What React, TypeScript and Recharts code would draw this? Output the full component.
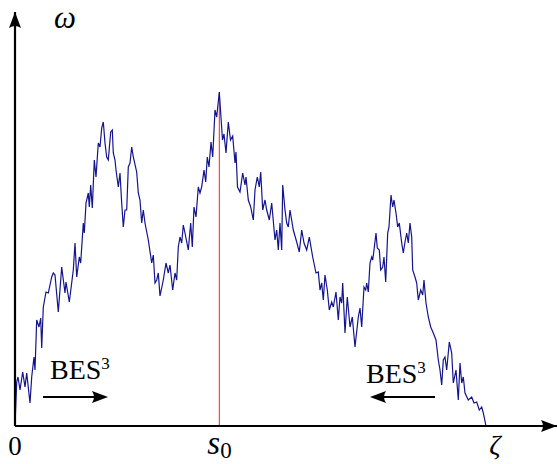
import React from 'react';
import { LineChart, Line, XAxis, YAxis, ReferenceLine, ReferenceDot } from 'recharts';

// sample path: time t, height omega
const pathT = [
  0, 1.7, 3, 5, 7.7, 10, 11.7, 15, 16.7, 19,
  20, 21.7, 24, 25.7, 26.7, 28.3, 31, 33.3, 36.7, 38.3,
  40, 43.3, 46.7, 50, 51, 54.3, 58.3, 60, 61.7, 64.3,
  65.7, 68.3, 69.3, 71, 73.3, 74.3, 75.7, 77.3, 79.3, 81,
  83.3, 85, 86.7, 88.3, 90, 91.7, 93.3, 95.7, 97.3, 98.3,
  100, 101, 103.3, 105, 106.7, 108.3, 110, 111.7, 113.3, 115,
  116.7, 118.3, 121.7, 123.3, 125, 126.7, 128.3, 130, 133.3, 136.7,
  138.3, 140, 141.7, 143.3, 145, 148.3, 151, 153.3, 155, 157.7,
  160, 161.7, 163.3, 165, 166.7, 168.3, 170, 173.3, 175.7, 177.3,
  179, 181, 183.3, 185, 186.7, 189, 190.7, 192.3, 194, 196,
  197.7, 200, 201.7, 204.3, 207.5, 209, 211, 213.3, 215.5, 217.7,
  220, 221, 222.5, 225, 227.7, 230, 231, 233.3, 235.7, 238.3,
  240, 242.3, 244.3, 245.7, 247.7, 250, 251.7, 254.3, 256.7, 260,
  261.7, 263.3, 265, 266.7, 267.7, 270, 271.7, 273.3, 275, 278.3,
  281.7, 284.3, 286.7, 289, 291.7, 294.3, 297.7, 301, 303.3, 305,
  306.7, 308.3, 310, 312.3, 314.3, 316.7, 318.3, 321, 323.3, 325,
  326.7, 327.7, 330, 332.3, 335, 337.3, 340, 343.3, 345, 346.7,
  349, 350.7, 351.7, 353.3, 355, 356.7, 357.7, 359, 361, 362.3,
  364.3, 365.7, 367.7, 369, 370.7, 372.7, 374, 376, 377.7, 379,
  381, 382.7, 384.3, 386.7, 388.3, 390, 391.7, 393.3, 395, 396.7,
  397.7, 400, 401.7, 403.3, 405.7, 407.7, 409, 411, 413.3, 415.7,
  418.3, 421, 423.3, 425, 426.7, 428.3, 430, 431.7, 434.3, 436.7,
  438.3, 441, 443.3, 445, 446.7, 448.3, 450, 453.3, 456.7, 459,
  461.7, 464.3, 466.7, 468.3, 471,
];
const pathOmega = [
  0, 44, 49, 36, 54, 39, 53, 23, 49, 69,
  56, 106, 99, 108, 78, 119, 134, 133, 149, 153,
  151, 114, 159, 133, 144, 124, 156, 183, 149, 169,
  163, 203, 193, 223, 233, 219, 241, 218, 266, 249,
  283, 279, 298, 304, 283, 269, 266, 294, 296, 273,
  266, 256, 239, 253, 223, 199, 216, 216, 259, 263,
  279, 269, 254, 233, 226, 203, 216, 203, 186, 163,
  171, 143, 146, 153, 130, 146, 163, 153, 161, 136,
  153, 146, 179, 189, 183, 201, 193, 176, 203, 179,
  219, 209, 239, 233, 239, 256, 244, 269, 259, 284,
  269, 316, 309, 334, 286, 292, 273, 304, 286, 290,
  263, 274, 239, 234, 253, 241, 249, 226, 219, 206,
  236, 249, 239, 254, 216, 226, 216, 206, 223, 186,
  196, 176, 203, 176, 241, 216, 203, 199, 216, 196,
  184, 174, 196, 183, 176, 189, 169, 153, 154, 136,
  143, 126, 151, 136, 116, 124, 119, 134, 106, 129,
  123, 143, 93, 129, 99, 109, 79, 109, 118, 99,
  139, 136, 143, 134, 163, 169, 166, 176, 193, 178,
  176, 156, 159, 169, 144, 193, 199, 231, 219, 226,
  213, 199, 203, 183, 173, 184, 193, 183, 203, 189,
  156, 149, 143, 126, 136, 131, 146, 123, 109, 99,
  93, 86, 66, 56, 41, 66, 69, 56, 84, 73,
  43, 56, 26, 63, 43, 49, 33, 26, 29, 23,
  24, 16, 19, 13, 0,
];

const S0 = 204.3;
const S0_HEIGHT = 334;
const ZETA = 471;
const T_MAX = 542;
const OMEGA_MAX = 414;

const tickValues = [0, S0, ZETA];
const tickLabels = ['0', 's', 'ζ'];

// BES3 arrows: [from, to] in t, at height arrowLevel
const arrowLevel = 29;
const besLeft = [28, 93];
const besRight = [420, 355];

const data = pathT.map((t, i) => ({ t, omega: pathOmega[i] }));

const FONT = '"Liberation Serif", "DejaVu Serif", serif';

const AxisTick = (props: any) => {
  const { x, y, index } = props;
  const label = tickLabels[index];
  if (label === 's') {
    return (
      <text x={x - 12} y={y + 28} fontFamily={FONT} fill="#000">
        <tspan fontStyle="italic" fontSize={33}>s</tspan>
        <tspan fontSize={23} dy={4}>0</tspan>
      </text>
    );
  }
  if (label === 'ζ') {
    return (
      <text x={x + 9} y={y + 28} textAnchor="middle" fontFamily={FONT} fontStyle="italic" fontSize={28} fill="#000">
        {label}
      </text>
    );
  }
  return (
    <text x={x} y={y + 29} textAnchor="middle" fontFamily={FONT} fontSize={27} fill="#000">
      {label}
    </text>
  );
};

const arrowRight = (cx: number, cy: number) =>
  `M${cx},${cy} L${cx - 16},${cy - 6} Q${cx - 12},${cy} ${cx - 16},${cy + 6} Z`;
const arrowLeft = (cx: number, cy: number) =>
  `M${cx},${cy} L${cx + 16},${cy - 6} Q${cx + 12},${cy} ${cx + 16},${cy + 6} Z`;
const arrowUp = (cx: number, cy: number) =>
  `M${cx},${cy} L${cx - 6},${cy + 16} Q${cx},${cy + 12} ${cx + 6},${cy + 16} Z`;

const Bes = ({ x, y }: { x: number; y: number }) => (
  <text x={x} y={y} fontFamily={FONT} fontSize={28} fill="#000">
    BES<tspan fontSize={17} dy={-10}>3</tspan>
  </text>
);

export default function App() {
  return (
    <div style={{ width: 557, height: 464 }}>
      <style>{'body{margin:0}'}</style>
      <LineChart width={557} height={464} data={data} margin={{ top: 12, right: 0, left: 15, bottom: 0 }}>
        <XAxis
          dataKey="t"
          type="number"
          domain={[0, T_MAX]}
          ticks={tickValues}
          interval={0}
          height={38}
          axisLine={false}
          tickLine={false}
          tickSize={0}
          tickMargin={0}
          tick={AxisTick}
        />
        <YAxis hide type="number" domain={[0, OMEGA_MAX]} />
        <ReferenceLine
          segment={[{ x: S0, y: 0 }, { x: S0, y: S0_HEIGHT }]}
          stroke="#ff1a1a"
          strokeWidth={1}
        />
        <Line
          type="linear"
          dataKey="omega"
          stroke="#14148f"
          strokeWidth={1.2}
          dot={false}
          isAnimationActive={false}
        />
        <ReferenceLine y={0} stroke="#000" strokeWidth={2.2} ifOverflow="visible" />
        <ReferenceLine x={0} stroke="#000" strokeWidth={2.2} ifOverflow="visible" />
        <ReferenceDot
          x={T_MAX}
          y={0}
          ifOverflow="visible"
          shape={(p: any) => <path d={arrowRight(p.cx, p.cy)} fill="#000" />}
        />
        <ReferenceDot
          x={0}
          y={OMEGA_MAX}
          ifOverflow="visible"
          shape={(p: any) => (
            <g>
              <path d={arrowUp(p.cx, p.cy)} fill="#000" />
              <text x={p.cx + 39} y={p.cy + 16} fontFamily={FONT} fontStyle="italic" fontSize={31} fill="#000">
                ω
              </text>
            </g>
          )}
        />
        <ReferenceLine
          segment={[{ x: besLeft[0], y: arrowLevel }, { x: besLeft[1] - 10, y: arrowLevel }]}
          stroke="#000"
          strokeWidth={2.2}
        />
        <ReferenceDot
          x={besLeft[1]}
          y={arrowLevel}
          ifOverflow="visible"
          shape={(p: any) => (
            <g>
              <path d={arrowRight(p.cx, p.cy)} fill="#000" />
              <Bes x={p.cx - 58} y={p.cy - 18} />
            </g>
          )}
        />
        <ReferenceLine
          segment={[{ x: besRight[0], y: arrowLevel }, { x: besRight[1] + 10, y: arrowLevel }]}
          stroke="#000"
          strokeWidth={2.2}
        />
        <ReferenceDot
          x={besRight[1]}
          y={arrowLevel}
          ifOverflow="visible"
          shape={(p: any) => (
            <g>
              <path d={arrowLeft(p.cx, p.cy)} fill="#000" />
              <Bes x={p.cx - 4} y={p.cy - 14} />
            </g>
          )}
        />
      </LineChart>
    </div>
  );
}
